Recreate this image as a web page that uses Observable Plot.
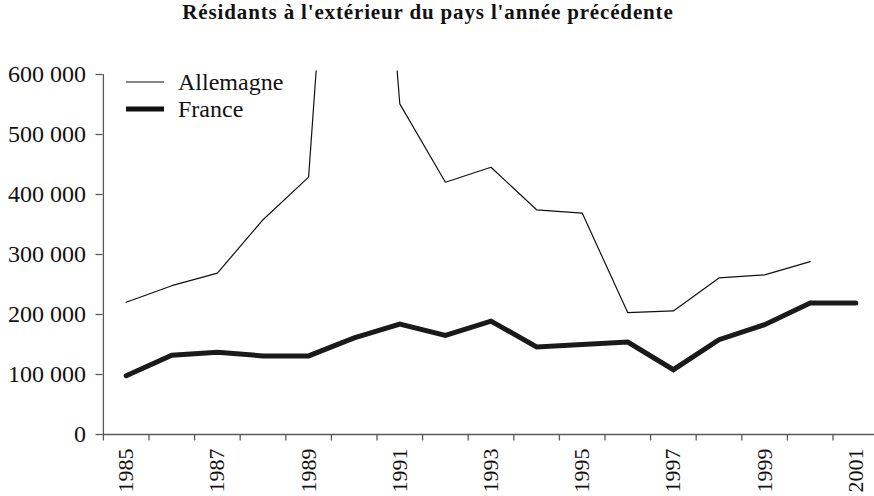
<!DOCTYPE html>
<html>
<head>
<meta charset="utf-8">
<script src="https://cdn.jsdelivr.net/npm/d3@7"></script>
<script src="https://cdn.jsdelivr.net/npm/@observablehq/plot@0.6"></script>
<style>
  html, body { margin: 0; padding: 0; background: #fff; }
  #title { width: 856px; padding-right: 18px; height: 38px; line-height: 37px; text-align: center;
    font: bold 21px "Liberation Serif", serif; letter-spacing: 0.85px; color: #111; }
  svg { display: block; }
</style>
</head>
<body>
<div id="title">Résidants à l'extérieur du pays l'année précédente</div>
<div id="chart"></div>
<script>
const years = [1985,1986,1987,1988,1989,1990,1991,1992,1993,1994,1995,1996,1997,1998,1999,2000,2001];
const allemagne = [220500,248000,269000,358000,429000,1500000,551000,420500,445500,374500,369000,203000,206000,261000,266000,288000,null];
const france = [98000,132000,137000,131000,131000,161000,184000,165000,189000,146000,150000,154000,108000,158000,183000,219000,219000];
const yTicks = [0,100000,200000,300000,400000,500000,600000];
const xLabelYears = [1985,1987,1989,1991,1993,1995,1997,1999,2001];
const seriesNames = ["Allemagne", "France"];

const tickBoundaries = years.map(y => y - 0.5);
const fmt = d => d3.format(",")(d).replace(/,/g, "\u00a0");

const dataAll = years.map((y, i) => ({year: y, value: allemagne[i]}));
const dataFr = years.map((y, i) => ({year: y, value: france[i]}));

const axisColor = "#5a5a5a";
const W = 874, H = 458;

const plot = Plot.plot({
  width: W,
  height: H,
  marginLeft: 102.5,
  marginRight: 0,
  marginTop: 32.4,
  marginBottom: 62,
  style: {fontFamily: "'Liberation Serif', serif", background: "white", color: "#111"},
  x: {domain: [1984.5, 2001.5], range: [102.9, 878.1], axis: null},
  y: {domain: [0, 606000], range: [396, 32.4], axis: null},
  marks: [
    Plot.ruleX([1984.5], {y1: 0, y2: 600000, stroke: axisColor, strokeWidth: 1.3}),
    Plot.ruleY([0], {stroke: axisColor, strokeWidth: 1.3}),
    Plot.axisY(yTicks, {anchor: "left", label: null, tickSize: 7, tickPadding: 10, stroke: axisColor, strokeWidth: 1.3,
      fill: "#111", tickFormat: fmt, fontSize: 24}),
    Plot.axisX(tickBoundaries, {anchor: "bottom", label: null, tickSize: 6.5, tickFormat: () => "", stroke: axisColor, strokeWidth: 1.3}),
    Plot.text(xLabelYears, {x: d => d, y: 0, text: d => String(d), rotate: -90, textAnchor: "end",
      lineAnchor: "middle", dy: 14, fontSize: 22, fill: "#111"}),
    Plot.line(dataAll, {x: "year", y: "value", stroke: "#111", strokeWidth: 1.2, clip: true, strokeLinejoin: "miter"}),
    Plot.line(dataFr, {x: "year", y: "value", stroke: "#1a1a1a", strokeWidth: 5, strokeLinejoin: "miter", strokeMiterlimit: 6})
  ]
});

// legend inside the plot, top-left
const svg = d3.select(plot);
const leg = svg.append("g").attr("font-family", "'Liberation Serif', serif").attr("font-size", 24)
  .attr("fill", "#111").attr("text-anchor", "start");
const legendItems = [{name: seriesNames[0], w: 1.2, y: 44}, {name: seriesNames[1], w: 5, y: 71}];
legendItems.forEach(it => {
  leg.append("line").attr("x1", 126).attr("x2", 164).attr("y1", it.y).attr("y2", it.y)
    .attr("stroke", "#111").attr("stroke-width", it.w);
  leg.append("text").attr("x", 178).attr("y", it.y + 7.8).attr("text-anchor", "start").text(it.name);
});

document.getElementById("chart").appendChild(plot);
</script>
</body>
</html>
